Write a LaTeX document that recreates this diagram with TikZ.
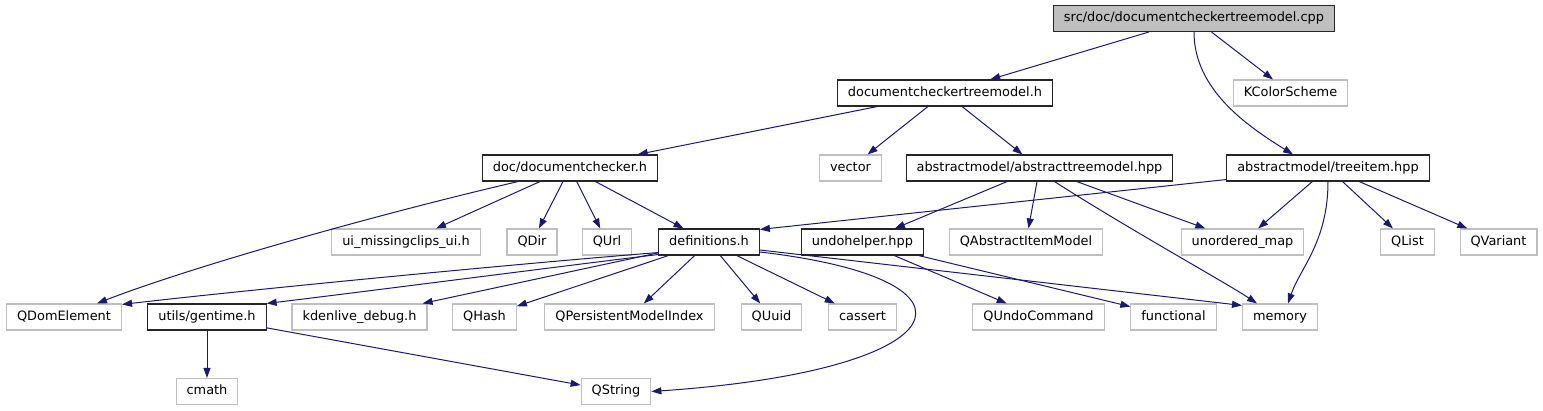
\documentclass[tikz,border=0pt]{standalone}
\usepackage{fontspec}
\setmainfont{DejaVu Sans}
\usetikzlibrary{arrows.meta}
\definecolor{edgeblue}{HTML}{191970}
\definecolor{extgray}{HTML}{BFBFBF}

\begin{document}
\begin{tikzpicture}[x=1pt, y=-1pt,
        every node/.style={font=\fontsize{12.9}{15}\selectfont, inner xsep=10.5pt, inner ysep=0pt,
            minimum height=26pt, text height=9.6pt, text depth=2.8pt},
        box/.style={draw=black!85, line width=1.1pt},
        ext/.style={draw=extgray, line width=1.1pt},
        dep/.style={draw=edgeblue, line width=1pt, -{Triangle[length=10pt, width=7pt]}}]
                    \useasboundingbox (0,0) rectangle (1543,411);
                    \node[box, fill=extgray] (cpp) at (1194,18.5) {src/doc/documentcheckertreemodel.cpp};
                    \node[box] (dctm) at (945,93) {documentcheckertreemodel.h};
                    \node[ext] (kcs) at (1290.5,93) {KColorScheme};
                    \node[box] (dc) at (570,168) {doc/documentchecker.h};
                    \node[ext] (vec) at (850.5,168) {vector};
                    \node[box] (atm) at (1039.5,168) {abstractmodel/abstracttreemodel.hpp};
                    \node[box] (ti) at (1328,168) {abstractmodel/treeitem.hpp};
                    \node[ext] (ui) at (406,242) {ui\_missingclips\_ui.h};
                    \node[ext] (qdir) at (532,242) {QDir};
                    \node[ext] (qurl) at (607,242) {QUrl};
                    \node[box] (defs) at (709,242) {definitions.h};
                    \node[box] (undo) at (862.5,242) {undohelper.hpp};
                    \node[ext] (qaim) at (1026,242) {QAbstractItemModel};
                    \node[ext] (umap) at (1242.5,242) {unordered\_map};
                    \node[ext] (qlist) at (1407.5,242) {QList};
                    \node[ext] (qvar) at (1498.5,242) {QVariant};
                    \node[ext] (qdom) at (64,317) {QDomElement};
                    \node[box] (gt) at (207,317) {utils/gentime.h};
                    \node[ext] (kdbg) at (359.5,317) {kdenlive\_debug.h};
                    \node[ext] (qhash) at (484.5,317) {QHash};
                    \node[ext] (qpmi) at (629.5,317) {QPersistentModelIndex};
                    \node[ext] (quuid) at (771.5,317) {QUuid};
                    \node[ext] (cass) at (862.5,317) {cassert};
                    \node[ext] (quc) at (1038.5,317) {QUndoCommand};
                    \node[ext] (func) at (1173.5,317) {functional};
                    \node[ext] (mem) at (1280,317) {memory};
                    \node[ext] (cmath) at (207,391.5) {cmath};
                    \node[ext] (qstr) at (616,391.5) {QString};

                    \draw[dep] (cpp) -- (dctm);
                    \draw[dep] (cpp) -- (kcs);
                    \draw[dep] (cpp.south) .. controls +(0,58) and +(-45,-28) .. ([xshift=-35pt]ti.north);
                    \draw[dep] (dctm) -- (dc);
                    \draw[dep] (dctm) -- (vec);
                    \draw[dep] (dctm) -- (atm);
                    \draw[dep] ([xshift=-52pt]dc.south) .. controls +(-150,35) and +(90,-35) .. ([xshift=33pt]qdom.north);
                    \draw[dep] (dc) -- (ui);
                    \draw[dep] (dc) -- (qdir);
                    \draw[dep] (dc) -- (qurl);
                    \draw[dep] (dc) -- (defs);
                    \draw[dep] (atm) -- (undo);
                    \draw[dep] (atm) -- (qaim);
                    \draw[dep] (atm) -- (umap);
                    \draw[dep] ([xshift=15pt]atm.south) .. controls +(70,45) and +(-30,-20) .. ([xshift=-23pt]mem.north);
                    \draw[dep] ([yshift=2pt]ti.south west) -- ([yshift=-1pt]defs.north east);
                    \draw[dep] (ti) -- (umap);
                    \draw[dep] (ti.south) .. controls +(0,60) and +(12,-35) .. ([xshift=8pt]mem.north);
                    \draw[dep] (ti) -- (qlist);
                    \draw[dep] (ti) -- (qvar);
                    \draw[dep] ([yshift=3pt]defs.south west) .. controls +(-150,12) and +(120,-14) .. ([yshift=-1pt]qdom.north east);
                    \draw[dep] ([yshift=1pt]defs.south west) .. controls +(-100,12) and +(100,-12) .. (gt.north east);
                    \draw[dep] (defs) -- (kdbg);
                    \draw[dep] (defs) -- (qhash);
                    \draw[dep] (defs) -- (qpmi);
                    \draw[dep] (defs) -- (quuid);
                    \draw[dep] (defs) -- (cass);
                    \draw[dep] ([yshift=-10pt]defs.east) .. controls +(240,28) and +(308,-21) .. (qstr.east);
                    \draw[dep] ([yshift=-8pt]defs.east) -- ([yshift=-2pt]mem.north west);
                    \draw[dep] (undo) -- (quc);
                    \draw[dep] (undo) -- (func);
                    \draw[dep] (gt) -- (cmath);
                    \draw[dep] (gt) -- (qstr);
                \end{tikzpicture}
\end{document}
